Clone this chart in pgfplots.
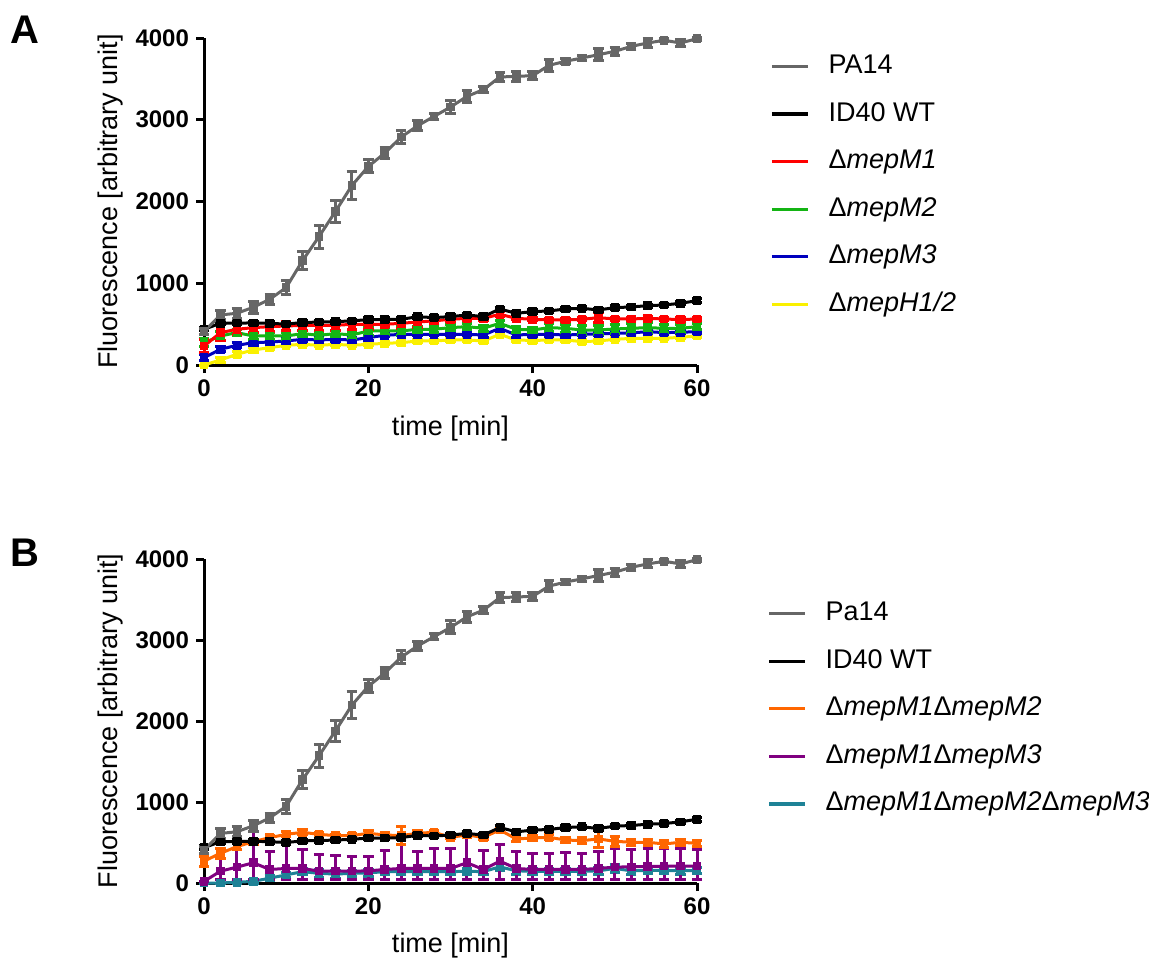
\documentclass[border=0pt]{standalone}
\usepackage{fontspec}
\setmainfont{Liberation Sans}
\usepackage{pgfplots}
\usepackage{pgfplotstable}
\pgfplotsset{compat=1.18}

\definecolor{pagray}{RGB}{102,102,102}
\definecolor{mred}{RGB}{255,0,0}
\definecolor{mgreen}{RGB}{20,180,20}
\definecolor{mblue}{RGB}{0,0,190}
\definecolor{myellow}{RGB}{250,240,0}
\definecolor{morange}{RGB}{255,102,0}
\definecolor{mpurple}{RGB}{128,0,128}
\definecolor{mteal}{RGB}{30,130,150}

% t = time [min], y = mean fluorescence, e = error
\pgfplotstableread{
t y e
0 408 40
2 612 60
4 633 60
6 706 70
8 804 60
10 947 90
12 1278 110
14 1571 140
16 1878 130
18 2196 170
20 2429 80
22 2592 70
24 2788 80
26 2927 60
28 3041 40
30 3155 80
32 3286 70
34 3368 40
36 3523 60
38 3531 60
40 3539 50
42 3666 70
44 3715 30
46 3755 30
48 3796 70
50 3837 50
52 3898 40
54 3939 50
56 3972 20
58 3939 40
60 3992 20
}\pafourteen

\pgfplotstableread{
t y e
0 437 20
2 510 20
4 512 20
6 515 20
8 510 20
10 500 20
12 520 20
14 525 20
16 530 20
18 540 20
20 555 20
22 555 20
24 560 20
26 590 20
28 580 20
30 592 20
32 612 20
34 592 20
36 685 20
38 632 20
40 653 20
42 661 20
44 685 20
46 694 20
48 673 20
50 702 20
52 710 20
54 726 20
56 734 20
58 755 20
60 787 25
}\wt

\pgfplotstableread{
t y e
0 230 80
2 396 100
4 437 70
6 457 60
8 469 60
10 477 60
12 485 60
14 485 60
16 485 60
18 498 60
20 498 60
22 498 30
24 510 60
26 526 70
28 540 30
30 559 30
32 571 30
34 571 30
36 620 30
38 571 20
40 559 20
42 551 20
44 551 20
46 559 20
48 579 60
50 563 20
52 563 20
54 571 20
56 563 20
58 555 20
60 563 20
}\mone

\pgfplotstableread{
t y e
0 273 50
2 355 50
4 396 40
6 355 40
8 355 40
10 355 40
12 384 40
14 363 40
16 384 40
18 367 40
20 416 50
22 416 40
24 416 50
26 437 40
28 437 40
30 457 40
32 469 40
34 449 40
36 510 40
38 437 40
40 428 30
42 457 50
44 449 50
46 428 50
48 428 60
50 441 60
52 449 60
54 457 60
56 449 50
58 449 50
60 469 40
}\mtwo

\pgfplotstableread{
t y e
0 90 40
2 192 30
4 241 30
6 273 30
8 281 30
10 294 30
12 314 30
14 306 30
16 314 30
18 306 30
20 335 30
22 363 20
24 375 20
26 375 20
28 375 20
30 375 20
32 375 20
34 367 30
36 449 40
38 367 30
40 375 30
42 375 30
44 367 30
46 375 20
48 380 20
50 388 20
52 392 20
54 408 20
56 396 20
58 400 20
60 408 20
}\mthree

\pgfplotstableread{
t y e
0 0 0
2 61 30
4 131 30
6 184 25
8 212 20
10 241 20
12 253 20
14 241 20
16 253 20
18 241 20
20 253 20
22 265 20
24 273 20
26 294 20
28 294 20
30 306 20
32 306 20
34 294 20
36 375 20
38 306 20
40 300 20
42 306 20
44 306 20
46 286 20
48 294 20
50 314 20
52 326 20
54 326 20
56 326 20
58 339 20
60 355 20
}\hone

\pgfplotstableread{
t y e
0 270 60
2 367 60
4 449 40
6 511 30
8 560 30
10 601 30
12 626 30
14 601 20
16 585 20
18 585 30
20 614 30
22 593 30
24 585 110
26 614 40
28 626 20
30 564 20
32 593 30
34 564 30
36 655 20
38 544 30
40 556 30
42 564 30
44 531 30
46 523 40
48 544 100
50 515 60
52 503 40
54 503 40
56 482 40
58 503 40
60 490 40
}\monetwo

% asymmetric error: ep = upper, em = lower
\pgfplotstableread{
t y ep em
0 20 0 0
2 146 286 106
4 196 290 156
6 250 388 210
8 167 224 127
10 180 334 140
12 180 232 140
14 146 204 106
16 146 191 106
18 146 183 106
20 150 179 110
22 167 236 127
24 180 293 140
26 180 211 140
28 180 252 140
30 180 252 140
32 250 367 210
34 167 236 127
36 270 203 230
38 180 211 140
40 167 203 127
42 167 203 127
44 167 208 127
46 167 203 127
48 180 208 140
50 196 236 156
52 200 211 160
54 204 228 164
56 208 222 168
58 208 222 168
60 208 204 168
}\monethree

\pgfplotstableread{
t y e
0 0 0
2 0 0
4 10 10
6 20 20
8 60 30
10 100 30
12 140 40
14 120 50
16 110 50
18 120 40
20 125 40
22 140 40
24 140 40
26 140 40
28 140 40
30 140 40
32 145 40
34 140 40
36 200 40
38 150 40
40 145 40
42 145 40
44 145 40
46 145 40
48 150 40
50 180 50
52 150 40
54 155 40
56 155 40
58 150 40
60 155 40
}\triple

\pgfplotsset{
  panel/.style={
    scale only axis, width=246.5pt,
    xmin=0, xmax=60, ymin=0, ymax=4000,
    axis lines*=left,
    axis line style={line width=1.5pt},
    tick style={line width=1.5pt, black},
    tick align=outside, major tick length=4pt,
    xtick={0,20,40,60}, ytick={0,1000,2000,3000,4000},
    ticklabel style={font=\bfseries\fontsize{12}{14}\selectfont},
    /pgf/number format/assume math mode=true,
    /pgf/number format/set thousands separator={},
    label style={font=\fontsize{13.5}{16}\selectfont},
    xlabel={time [min]},
    ylabel={Fluorescence [arbitrary unit]},
    xlabel style={at={(axis description cs:0.5,-0.193)}, anchor=center},
    ylabel style={at={(axis description cs:-0.19,0.5)}, anchor=center},
    clip=false,
    legend cell align=left,
    legend image code/.code={\draw[##1, line width=1.6pt] (0pt,0pt) -- (18pt,0pt);},
    legend style={draw=none, fill=none, anchor=north west,
      font=\fontsize{13.5}{16}\selectfont,
      row sep=11.8pt, column sep=9.5pt, inner sep=0pt,
      nodes={inner sep=0pt, text height=9.5pt, text depth=2.5pt}},
  },
  series/.style={color=#1, line width=1.5pt, mark=square*,
    mark size=1.4pt, mark options={solid},
    error bars/.cd, y dir=both, y explicit,
    error bar style={line width=1.5pt, color=#1},
    error mark options={rotate=90, line width=1.5pt, mark size=2.6pt, color=#1}},
}

\begin{document}
\begin{tikzpicture}
\useasboundingbox (0,0) rectangle (574.5pt,482.5pt);

\node[font=\bfseries\fontsize{20}{24}\selectfont] at (12.5pt,467.5pt) {A};
\node[font=\bfseries\fontsize{20}{24}\selectfont] at (12.5pt,206pt) {B};

% panel A
\begin{axis}[panel, height=163.5pt, at={(102pt,300pt)}, anchor=south west,
  legend style={at={(rel axis cs:1.148,0.951)}}]
\addlegendimage{color=pagray}\addlegendentry{PA14}
\addlegendimage{color=black}\addlegendentry{ID40 WT}
\addlegendimage{color=mred}\addlegendentry{Δ\textit{mepM1}}
\addlegendimage{color=mgreen}\addlegendentry{Δ\textit{mepM2}}
\addlegendimage{color=mblue}\addlegendentry{Δ\textit{mepM3}}
\addlegendimage{color=myellow}\addlegendentry{Δ\textit{mepH1/2}}
\addplot[forget plot, series=myellow] table[x=t, y=y, y error=e] {\hone};
\addplot[forget plot, series=mblue] table[x=t, y=y, y error=e] {\mthree};
\addplot[forget plot, series=mgreen] table[x=t, y=y, y error=e] {\mtwo};
\addplot[forget plot, series=mred] table[x=t, y=y, y error=e] {\mone};
\addplot[forget plot, series=black] table[x=t, y=y, y error=e] {\wt};
\addplot[forget plot, line width=2pt, series=pagray] table[x=t, y=y, y error=e] {\pafourteen};
\end{axis}

% panel B
\begin{axis}[panel, height=162pt, at={(102pt,41pt)}, anchor=south west,
  legend style={at={(rel axis cs:1.142,0.870)}}]
\addlegendimage{color=pagray}\addlegendentry{Pa14}
\addlegendimage{color=black}\addlegendentry{ID40 WT}
\addlegendimage{color=morange}\addlegendentry{Δ\textit{mepM1}Δ\textit{mepM2}}
\addlegendimage{color=mpurple}\addlegendentry{Δ\textit{mepM1}Δ\textit{mepM3}}
\addlegendimage{color=mteal}\addlegendentry{Δ\textit{mepM1}Δ\textit{mepM2}Δ\textit{mepM3}}
\addplot[forget plot, series=mteal] table[x=t, y=y, y error=e] {\triple};
\addplot[forget plot, series=mpurple] table[x=t, y=y, y error plus=ep, y error minus=em] {\monethree};
\addplot[forget plot, series=morange] table[x=t, y=y, y error=e] {\monetwo};
\addplot[forget plot, series=black] table[x=t, y=y, y error=e] {\wt};
\addplot[forget plot, line width=2pt, series=pagray] table[x=t, y=y, y error=e] {\pafourteen};
\end{axis}
\end{tikzpicture}
\end{document}
